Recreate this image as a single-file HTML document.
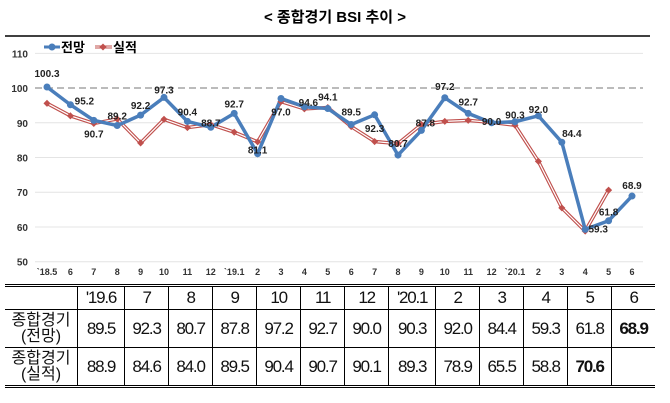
<!DOCTYPE html>
<html><head><meta charset="utf-8">
<style>
body{margin:0;background:#fff;width:670px;height:403px;overflow:hidden;font-family:"Liberation Sans","Noto Sans CJK KR",sans-serif;}
svg{position:absolute;left:0;top:0}
table{position:absolute;left:5px;top:284px;width:650px;border-collapse:collapse;border-top:3px double #000;border-bottom:3px double #000;font-family:"Liberation Sans","Noto Sans CJK KR",sans-serif;}
td{border:1px solid #000;text-align:center;font-size:17px;letter-spacing:-1.2px;padding:0;color:#111}
tr.h td{height:22px;background:#fff;font-weight:normal}
tr.r td{height:37px}
td.lab{width:72px;font-size:16px;line-height:16px;letter-spacing:0}
td:first-child{border-left:none}td:last-child{border-right:none}
</style></head><body>
<svg width="670" height="284">
<text x="335" y="22" text-anchor="middle" font-size="15" font-weight="bold" font-family="Liberation Sans, Noto Sans CJK KR, sans-serif">&lt; 종합경기 BSI 추이 &gt;</text>
<line x1="5" y1="36" x2="650" y2="36" stroke="#000" stroke-width="1.5"/>
<g id="grid"></g><g id="series"></g><g id="labels"></g>
<g>
<line x1="44" y1="47" x2="60" y2="47" stroke="#4a7ebb" stroke-width="3"/><circle cx="52" cy="47" r="3.5" fill="#4a7ebb"/>
<text x="61" y="52" font-size="13" font-weight="bold">전망</text>
<line x1="95" y1="47" x2="112" y2="47" stroke="#c0504d" stroke-width="3"/><line x1="95" y1="47" x2="112" y2="47" stroke="#fff" stroke-width="1"/><rect x="100.5" y="44.5" width="5" height="5" fill="#c0504d" transform="rotate(45 103 47)"/>
<text x="113" y="52" font-size="13" font-weight="bold">실적</text>
</g>
</svg>
<table>
<tr class="h"><td class="lab"></td><td>'19.6</td><td>7</td><td>8</td><td>9</td><td>10</td><td>11</td><td>12</td><td>'20.1</td><td>2</td><td>3</td><td>4</td><td>5</td><td>6</td></tr>
<tr class="r"><td class="lab">종합경기<br>(전망)</td><td>89.5</td><td>92.3</td><td>80.7</td><td>87.8</td><td>97.2</td><td>92.7</td><td>90.0</td><td>90.3</td><td>92.0</td><td>84.4</td><td>59.3</td><td>61.8</td><td><b>68.9</b></td></tr>
<tr class="r"><td class="lab">종합경기<br>(실적)</td><td>88.9</td><td>84.6</td><td>84.0</td><td>89.5</td><td>90.4</td><td>90.7</td><td>90.1</td><td>89.3</td><td>78.9</td><td>65.5</td><td>58.8</td><td><b>70.6</b></td><td></td></tr>
</table>
<script>
const categories=["`18.5","6","7","8","9","10","11","12","`19.1","2","3","4","5","6","7","8","9","10","11","12","`20.1","2","3","4","5","6"];
const forecast=[100.3,95.2,90.7,89.2,92.2,97.3,90.4,88.7,92.7,81.1,97.0,94.6,94.1,89.5,92.3,80.7,87.8,97.2,92.7,90.0,90.3,92.0,84.4,59.3,61.8,68.9];
const actual=[95.6,92.0,89.8,91.1,84.2,91.0,88.6,89.5,87.3,84.5,96.1,94.0,94.4,88.9,84.6,84.0,89.5,90.4,90.7,90.1,89.3,78.9,65.5,58.8,70.6,null];
const yTicks=[50,60,70,80,90,100,110];
const labelOffsets=[[0,-14],[14,-4],[0,13],[0,-10],[0,-10],[0,-8],[0,-10],[0,-5],[0,-10],[0,-4],[0,13],[4,-5],[0,-12],[0,-13],[0,13],[0,-12],[4,-8],[0,-12],[0,-12],[0,-2],[0,-7],[0,-7],[10,-9],[13,-1],[0,-9],[0,-11]];
const NS="http://www.w3.org/2000/svg";
const x=i=>47+i*23.4, y=v=>261.7-(v-50)*3.473;
function mk(t,a,p){const e=document.createElementNS(NS,t);for(const k in a)e.setAttribute(k,a[k]);p.appendChild(e);return e;}
const grid=document.getElementById('grid'),ser=document.getElementById('series'),lab=document.getElementById('labels');
yTicks.forEach(t=>{
 const l=mk('line',{x1:35,x2:643,y1:y(t),y2:y(t),stroke:t===100?'#bbb':'#e4e4e4','stroke-width':t===100?2:1,'stroke-dasharray':t===100?'7 4':''},grid);
 
 
 const tx=mk('text',{x:28,y:y(t)+4,'text-anchor':'end','font-size':10,'font-weight':'bold',fill:'#333'},grid);tx.textContent=t;
 
 
});
categories.forEach((c,i)=>{
 const tx=mk('text',{x:x(i),y:275,'text-anchor':'middle','font-size':9,'font-weight':'bold',fill:'#333'},grid);tx.textContent=c;
 
 
});
function pts(a){return a.map((v,i)=>v==null?null:x(i)+','+y(v)).filter(Boolean).join(' ');}
let a1=mk('polyline',{points:pts(actual),fill:'none',stroke:'#c0504d','stroke-width':3.5},ser);


mk('polyline',{points:pts(actual),fill:'none',stroke:'#fff','stroke-width':1.2},ser);
let f1=mk('polyline',{points:pts(forecast),fill:'none',stroke:'#4a7ebb','stroke-width':3.5},ser);


actual.forEach((v,i)=>{if(v==null)return;const r=mk('rect',{x:x(i)-2.5,y:y(v)-2.5,width:5,height:5,fill:'#c0504d',transform:`rotate(45 ${x(i)} ${y(v)})`},ser);
 
 });
forecast.forEach((v,i)=>{const c=mk('circle',{cx:x(i),cy:y(v),r:3.5,fill:'#4a7ebb'},ser);
 
 
 const o=labelOffsets[i];const t=mk('text',{x:x(i)+o[0],y:y(v)+o[1]+4,'text-anchor':'middle','font-size':10,'font-weight':'bold',fill:'#222'},lab);t.textContent=v.toFixed(1);
 
 });
</script>
</body></html>
